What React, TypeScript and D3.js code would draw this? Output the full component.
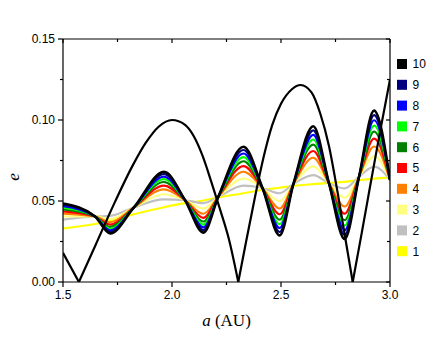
import React from "react";
import * as d3 from "d3";

// ---- data ----
const aPositions = [1.5, 1.647, 1.716, 1.825, 1.963, 2.06, 2.144, 2.212, 2.328, 2.415, 2.494, 2.557, 2.648, 2.72, 2.792, 2.858, 2.927, 3.0];

const series10 = [0.0485, 0.0405, 0.0300, 0.046, 0.0680, 0.0505, 0.0305, 0.0525, 0.0835, 0.058, 0.0288, 0.0605, 0.0961, 0.061, 0.0265, 0.065, 0.1058, 0.063];
const series9 = [0.0477, 0.0405, 0.0309, 0.046, 0.0666, 0.0505, 0.0320, 0.0525, 0.0815, 0.058, 0.0309, 0.0605, 0.0936, 0.061, 0.0291, 0.065, 0.1030, 0.063];
const series8 = [0.0468, 0.0405, 0.0319, 0.046, 0.0650, 0.0505, 0.0337, 0.0525, 0.0793, 0.058, 0.0333, 0.0605, 0.0908, 0.061, 0.0320, 0.065, 0.0998, 0.063];
const series7 = [0.0459, 0.0405, 0.0329, 0.046, 0.0635, 0.0505, 0.0354, 0.0525, 0.0771, 0.058, 0.0357, 0.0605, 0.0880, 0.061, 0.0349, 0.065, 0.0965, 0.063];
const series6 = [0.0448, 0.0405, 0.0340, 0.046, 0.0617, 0.0505, 0.0373, 0.0525, 0.0745, 0.058, 0.0385, 0.0605, 0.0848, 0.061, 0.0382, 0.065, 0.0929, 0.063];
const series5 = [0.0436, 0.0405, 0.0354, 0.046, 0.0595, 0.0505, 0.0396, 0.0525, 0.0715, 0.058, 0.0418, 0.0605, 0.0809, 0.061, 0.0422, 0.065, 0.0885, 0.063];
const series4 = [0.0422, 0.0405, 0.0369, 0.046, 0.0572, 0.0505, 0.0421, 0.0525, 0.0681, 0.058, 0.0454, 0.0605, 0.0767, 0.061, 0.0466, 0.065, 0.0836, 0.063];
const series3 = [0.0405, 0.0405, 0.0388, 0.046, 0.0542, 0.0505, 0.0453, 0.0525, 0.0639, 0.058, 0.0499, 0.0605, 0.0714, 0.061, 0.0520, 0.065, 0.0776, 0.063];
const series2 = [0.0385, 0.0405, 0.0408, 0.046, 0.0510, 0.0505, 0.0487, 0.0525, 0.0595, 0.058, 0.0548, 0.0605, 0.0660, 0.061, 0.0578, 0.065, 0.0712, 0.063];
const series1 = [0.0331, 0.0358, 0.0376, 0.0418, 0.0462, 0.0487, 0.0503, 0.0522, 0.0548, 0.0568, 0.0582, 0.0593, 0.0604, 0.0611, 0.0618, 0.0628, 0.0638, 0.0644];

const seriesLabels = ["10", "9", "8", "7", "6", "5", "4", "3", "2", "1"];
const seriesColors = ["#000000", "#000080", "#0000ff", "#00ff00", "#008000", "#ff0000", "#ff8000", "#ffff80", "#c0c0c0", "#ffff00"];
const seriesValues = [series10, series9, series8, series7, series6, series5, series4, series3, series2, series1];

const bigA = [1.5, 1.573, 1.65, 1.73, 1.82, 1.88, 1.94, 2.0, 2.06, 2.10, 2.14, 2.18, 2.22, 2.26, 2.304, 2.34, 2.38, 2.42, 2.46, 2.50, 2.55, 2.59, 2.64, 2.68, 2.72, 2.76, 2.80, 2.829, 2.87, 2.91, 2.954, 3.0];
const bigE = [0.018, 0, 0.023, 0.047, 0.072, 0.086, 0.096, 0.100, 0.097, 0.090, 0.078, 0.062, 0.045, 0.027, 0, 0.025, 0.052, 0.077, 0.097, 0.110, 0.119, 0.1216, 0.117, 0.104, 0.084, 0.055, 0.023, 0, 0.030, 0.060, 0.0925, 0.125];

const xMajor = [1.5, 2.0, 2.5, 3.0];
const xMajorLabels = ["1.5", "2.0", "2.5", "3.0"];
const xMinor = [1.75, 2.25, 2.75];
const yMajor = [0, 0.05, 0.1, 0.15];
const yMajorLabels = ["0.00", "0.05", "0.10", "0.15"];
const yMinor = [0.025, 0.075, 0.125];

export default function App() {
  const W = 436, H = 338;
  const L = 63, R = 390, T = 39, B = 282;
  const x = d3.scaleLinear().domain([1.5, 3.0]).range([L, R]);
  const y = d3.scaleLinear().domain([0, 0.15]).range([B, T]);

  const famLine = d3.line<number>()
    .x((_, i) => x(aPositions[i]))
    .y((d) => y(d))
    .curve(d3.curveMonotoneX);

  // split big curve into arches at zeros
  const arches: [number, number][][] = [];
  let cur: [number, number][] = [];
  bigA.forEach((a, i) => {
    const p: [number, number] = [a, bigE[i]];
    cur.push(p);
    if (bigE[i] === 0 && cur.length > 1) {
      arches.push(cur);
      cur = [p];
    }
  });
  if (cur.length > 1) arches.push(cur);
  const bigLine = d3.line<[number, number]>()
    .x((d) => x(d[0]))
    .y((d) => y(d[1]))
    .curve(d3.curveMonotoneX);

  const sans = "'Liberation Sans', Arial, Helvetica, sans-serif";
  const serif = "'Liberation Serif', 'Times New Roman', serif";
  const drawOrder = [9, 8, 7, 6, 5, 4, 3, 2, 1, 0];

  return (
    <svg width={W} height={H} style={{ position: "absolute", left: 0, top: 0, background: "#fff" }}>
      <defs>
        <clipPath id="plotclip">
          <rect x={L} y={T - 2} width={R - L} height={B - T + 2} />
        </clipPath>
      </defs>
      <rect x={0} y={0} width={W} height={H} fill="#fff" />
      <g clipPath="url(#plotclip)">
        {drawOrder.map((k) => (
          <path key={k} d={famLine(seriesValues[k]) || ""} fill="none"
            stroke={seriesColors[k]} strokeWidth={k === 0 ? 2.6 : 2.1} strokeLinejoin="round" />
        ))}
        {arches.map((arc, i) => (
          <path key={"b" + i} d={bigLine(arc) || ""} fill="none" stroke="#000" strokeWidth={2.2} strokeLinejoin="round" />
        ))}
      </g>
      {/* frame */}
      <g stroke="#000" strokeWidth={1.2} fill="none">
        <line x1={L} y1={T} x2={L} y2={B} />
        <line x1={L} y1={B} x2={R} y2={B} />
        <line x1={L} y1={T} x2={R} y2={T} />
        <line x1={R} y1={T} x2={R} y2={B} />
        {xMajor.map((v) => (
          <g key={"xm" + v}>
            <line x1={x(v)} y1={B} x2={x(v)} y2={B + 5} />
            <line x1={x(v)} y1={T} x2={x(v)} y2={T + 4} />
          </g>
        ))}
        {xMinor.map((v) => (
          <g key={"xn" + v}>
            <line x1={x(v)} y1={B} x2={x(v)} y2={B + 3} />
            <line x1={x(v)} y1={T} x2={x(v)} y2={T + 3} />
          </g>
        ))}
        {yMajor.map((v) => (
          <g key={"ym" + v}>
            <line x1={L} y1={y(v)} x2={L - 5} y2={y(v)} />
            <line x1={R} y1={y(v)} x2={R - 4} y2={y(v)} />
          </g>
        ))}
        {yMinor.map((v) => (
          <g key={"yn" + v}>
            <line x1={L} y1={y(v)} x2={L - 3} y2={y(v)} />
            <line x1={R} y1={y(v)} x2={R - 3} y2={y(v)} />
          </g>
        ))}
      </g>
      <g fontFamily={sans} fontSize={12} fill="#000">
        {xMajor.map((v, i) => (
          <text key={"xl" + v} x={x(v)} y={299} textAnchor="middle">{xMajorLabels[i]}</text>
        ))}
        {yMajor.map((v, i) => (
          <text key={"yl" + v} x={55} y={y(v) + 4.3} textAnchor="end">{yMajorLabels[i]}</text>
        ))}
      </g>
      <text x={226.5} y={326} textAnchor="middle" fontFamily={serif} fontSize={17} fill="#000">
        <tspan fontStyle="italic">a</tspan> (AU)
      </text>
      <text transform="translate(19,177) rotate(-90)" textAnchor="middle" fontFamily={serif} fontSize={17} fontStyle="italic" fill="#000">e</text>
      {/* legend */}
      <g fontFamily={sans} fontSize={12} fill="#000">
        {seriesLabels.map((lab, i) => {
          const cy = 64 + i * 20.8;
          return (
            <g key={"lg" + lab}>
              <rect x={397} y={cy - 5} width={10} height={10} fill={seriesColors[i]} />
              <text x={412.5} y={cy + 4.3}>{lab}</text>
            </g>
          );
        })}
      </g>
    </svg>
  );
}
